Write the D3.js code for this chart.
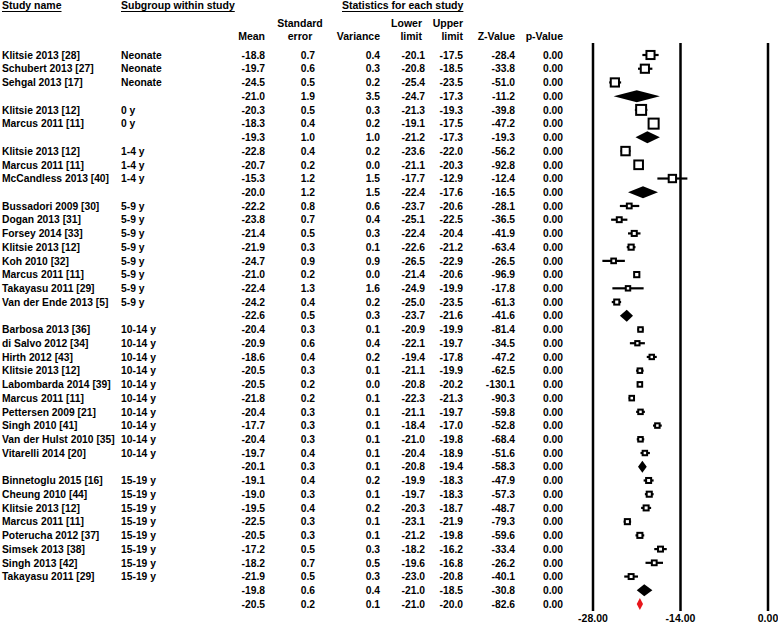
<!DOCTYPE html>
<html>
<head>
<meta charset="utf-8">
<script src="https://cdn.jsdelivr.net/npm/d3@7"></script>
<style>
    body { margin: 0; background: #fff; }
    text { font-family: 'Liberation Sans', Arial, sans-serif; fill: #000; }
</style>
</head>
<body>
<svg id="forest"></svg>
<script>
const svgWidth = 778
const svgHeight = 623

// one entry per row, '' for pooled rows
const studyNames = [
    'Klitsie 2013 [28]', 'Schubert 2013 [27]', 'Sehgal 2013 [17]', '',
    'Klitsie 2013 [12]', 'Marcus 2011 [11]', '',
    'Klitsie 2013 [12]', 'Marcus 2011 [11]', 'McCandless 2013 [40]', '',
    'Bussadori 2009 [30]', 'Dogan 2013 [31]', 'Forsey 2014 [33]', 'Klitsie 2013 [12]', 'Koh 2010 [32]',
    'Marcus 2011 [11]', 'Takayasu 2011 [29]', 'Van der Ende 2013 [5]', '',
    'Barbosa 2013 [36]', 'di Salvo 2012 [34]', 'Hirth 2012 [43]', 'Klitsie 2013 [12]', 'Labombarda 2014 [39]',
    'Marcus 2011 [11]', 'Pettersen 2009 [21]', 'Singh 2010 [41]', 'Van der Hulst 2010 [35]', 'Vitarelli 2014 [20]', '',
    'Binnetoglu 2015 [16]', 'Cheung 2010 [44]', 'Klitsie 2013 [12]', 'Marcus 2011 [11]', 'Poterucha 2012 [37]',
    'Simsek 2013 [38]', 'Singh 2013 [42]', 'Takayasu 2011 [29]', '',
    ''
]
const subgroups = [
    'Neonate', 'Neonate', 'Neonate', '',
    '0 y', '0 y', '',
    '1-4 y', '1-4 y', '1-4 y', '',
    '5-9 y', '5-9 y', '5-9 y', '5-9 y', '5-9 y', '5-9 y', '5-9 y', '5-9 y', '',
    '10-14 y', '10-14 y', '10-14 y', '10-14 y', '10-14 y', '10-14 y', '10-14 y', '10-14 y', '10-14 y', '10-14 y', '',
    '15-19 y', '15-19 y', '15-19 y', '15-19 y', '15-19 y', '15-19 y', '15-19 y', '15-19 y', '',
    ''
]
const rowTypes = [
    'study', 'study', 'study', 'pooled',
    'study', 'study', 'pooled',
    'study', 'study', 'study', 'pooled',
    'study', 'study', 'study', 'study', 'study', 'study', 'study', 'study', 'pooled',
    'study', 'study', 'study', 'study', 'study', 'study', 'study', 'study', 'study', 'study', 'pooled',
    'study', 'study', 'study', 'study', 'study', 'study', 'study', 'study', 'pooled',
    'overall'
]
const means = [
    -18.8, -19.7, -24.5, -21.0,
    -20.3, -18.3, -19.3,
    -22.8, -20.7, -15.3, -20.0,
    -22.2, -23.8, -21.4, -21.9, -24.7, -21.0, -22.4, -24.2, -22.6,
    -20.4, -20.9, -18.6, -20.5, -20.5, -21.8, -20.4, -17.7, -20.4, -19.7, -20.1,
    -19.1, -19.0, -19.5, -22.5, -20.5, -17.2, -18.2, -21.9, -19.8,
    -20.5
]
const stdErrors = [
    0.7, 0.6, 0.5, 1.9,
    0.5, 0.4, 1.0,
    0.4, 0.2, 1.2, 1.2,
    0.8, 0.7, 0.5, 0.3, 0.9, 0.2, 1.3, 0.4, 0.5,
    0.3, 0.6, 0.4, 0.3, 0.2, 0.2, 0.3, 0.3, 0.3, 0.4, 0.3,
    0.4, 0.3, 0.4, 0.3, 0.3, 0.5, 0.7, 0.5, 0.6,
    0.2
]
const variances = [
    0.4, 0.3, 0.2, 3.5,
    0.3, 0.2, 1.0,
    0.2, 0.0, 1.5, 1.5,
    0.6, 0.4, 0.3, 0.1, 0.9, 0.0, 1.6, 0.2, 0.3,
    0.1, 0.4, 0.2, 0.1, 0.0, 0.1, 0.1, 0.1, 0.1, 0.1, 0.1,
    0.2, 0.1, 0.2, 0.1, 0.1, 0.3, 0.5, 0.3, 0.4,
    0.1
]
const lowerLimits = [
    -20.1, -20.8, -25.4, -24.7,
    -21.3, -19.1, -21.2,
    -23.6, -21.1, -17.7, -22.4,
    -23.7, -25.1, -22.4, -22.6, -26.5, -21.4, -24.9, -25.0, -23.7,
    -20.9, -22.1, -19.4, -21.1, -20.8, -22.3, -21.1, -18.4, -21.0, -20.4, -20.8,
    -19.9, -19.7, -20.3, -23.1, -21.2, -18.2, -19.6, -23.0, -21.0,
    -21.0
]
const upperLimits = [
    -17.5, -18.5, -23.5, -17.3,
    -19.3, -17.5, -17.3,
    -22.0, -20.3, -12.9, -17.6,
    -20.6, -22.5, -20.4, -21.2, -22.9, -20.6, -19.9, -23.5, -21.6,
    -19.9, -19.7, -17.8, -19.9, -20.2, -21.3, -19.7, -17.0, -19.8, -18.9, -19.4,
    -18.3, -18.3, -18.7, -21.9, -19.8, -16.2, -16.8, -20.8, -18.5,
    -20.0
]
const zValues = [
    -28.4, -33.8, -51.0, -11.2,
    -39.8, -47.2, -19.3,
    -56.2, -92.8, -12.4, -16.5,
    -28.1, -36.5, -41.9, -63.4, -26.5, -96.9, -17.8, -61.3, -41.6,
    -81.4, -34.5, -47.2, -62.5, -130.1, -90.3, -59.8, -52.8, -68.4, -51.6, -58.3,
    -47.9, -57.3, -48.7, -79.3, -59.6, -33.4, -26.2, -40.1, -30.8,
    -82.6
]
const pValues = means.map(() => 0.00)
// relative weight (%) within subgroup, sets the box size
const weights = [
    32.8, 33.4, 33.8, null,
    49.5, 50.5, null,
    35.5, 37.5, 27.0, null,
    11.5, 12.0, 12.8, 13.3, 10.8, 13.6, 9.8, 13.0, null,
    10.3, 9.2, 9.8, 10.2, 10.5, 10.4, 10.1, 10.1, 10.2, 9.9, null,
    12.6, 12.9, 12.6, 12.9, 12.9, 12.3, 11.5, 12.3, null,
    null
]
const xTicks = [-28, -14, 0]

const rows = means.map((m, i) => ({
    name: studyNames[i],
    subgroup: subgroups[i],
    type: rowTypes[i],
    mean: m,
    se: stdErrors[i],
    variance: variances[i],
    lower: lowerLimits[i],
    upper: upperLimits[i],
    z: zValues[i],
    p: pValues[i],
    weight: weights[i]
}))

const columns = [
    { key: 'mean', x: 265, head: ['', 'Mean'], digits: 1 },
    { key: 'se', x: 315, head: ['Standard', 'error'], digits: 1, headX: 300, headAnchor: 'middle' },
    { key: 'variance', x: 380, head: ['', 'Variance'], digits: 1 },
    { key: 'lower', x: 425, head: ['Lower', 'limit'], digits: 1, headX: 422 },
    { key: 'upper', x: 463, head: ['Upper', 'limit'], digits: 1 },
    { key: 'z', x: 515, head: ['', 'Z-Value'], digits: 1 },
    { key: 'p', x: 563, head: ['', 'p-Value'], digits: 2 }
]

const svg = d3.select('#forest')
    .attr('width', svgWidth)
    .attr('height', svgHeight)

const y = d3
    .scalePoint()
    .domain(d3.range(rows.length))
    .range([55, 604])

const x = d3
    .scaleLinear()
    .domain([-28, 0])
    .range([593, 768])

const boxSize = d3
    .scaleSqrt()
    .domain([0, 50])
    .range([0, 10])

// headers
const headFont = 10.5
const underlined = (txt, xPos) => {
    const t = svg.append('text')
        .attr('x', xPos)
        .attr('y', 9)
        .attr('font-size', headFont)
        .attr('font-weight', 'bold')
        .text(txt)
    const len = t.node().getComputedTextLength()
    svg.append('line')
        .attr('x1', xPos).attr('x2', xPos + len)
        .attr('y1', 11.5).attr('y2', 11.5)
        .attr('stroke', '#000')
        .attr('stroke-width', 1.2)
}
underlined('Study name', 2)
underlined('Subgroup within study', 121)
underlined('Statistics for each study', 342)

columns.forEach(c => {
    c.head.forEach((h, j) => {
        svg.append('text')
            .attr('x', c.headX || c.x)
            .attr('y', 27 + j * 13)
            .attr('text-anchor', c.headAnchor || 'end')
            .attr('font-size', headFont)
            .attr('font-weight', 'bold')
            .text(h)
    })
})

// table rows
const dataFont = 10.3
const rowG = svg.append('g')
    .attr('font-weight', 'bold')
    .selectAll('g')
    .data(rows)
    .join('g')
    .attr('transform', (d, i) => `translate(0, ${y(i)})`)

rowG.append('text')
    .attr('x', 2)
    .attr('dy', '0.36em')
    .attr('font-size', dataFont)
    .text(d => d.name)

rowG.append('text')
    .attr('x', 121)
    .attr('dy', '0.36em')
    .attr('font-size', dataFont)
    .text(d => d.subgroup)

columns.forEach(c => {
    rowG.append('text')
        .attr('x', c.x)
        .attr('dy', '0.36em')
        .attr('text-anchor', 'end')
        .attr('font-size', dataFont)
        .text(d => d[c.key].toFixed(c.digits))
})

// reference lines and tick labels
svg.append('g')
    .selectAll('line')
    .data(xTicks)
    .join('line')
    .attr('x1', d => x(d))
    .attr('x2', d => x(d))
    .attr('y1', 43)
    .attr('y2', 611)
    .attr('stroke', '#000')
    .attr('stroke-width', 2.5)

svg.append('g')
    .selectAll('text')
    .data(xTicks)
    .join('text')
    .attr('x', d => x(d))
    .attr('y', 622)
    .attr('text-anchor', 'middle')
    .attr('font-size', headFont)
    .attr('font-weight', 'bold')
    .text(d => d.toFixed(2))

// study CIs and boxes
const plotG = svg.append('g')
const studies = rows.map((d, i) => ({ ...d, i })).filter(d => d.type === 'study')

plotG.selectAll('line.ci')
    .data(studies)
    .join('line')
    .attr('class', 'ci')
    .attr('x1', d => x(d.lower))
    .attr('x2', d => x(d.upper))
    .attr('y1', d => y(d.i))
    .attr('y2', d => y(d.i))
    .attr('stroke', '#000')
    .attr('stroke-width', 2.2)

plotG.selectAll('rect')
    .data(studies)
    .join('rect')
    .attr('x', d => x(d.mean) - boxSize(d.weight) / 2)
    .attr('y', d => y(d.i) - boxSize(d.weight) / 2)
    .attr('width', d => boxSize(d.weight))
    .attr('height', d => boxSize(d.weight))
    .attr('fill', '#fff')
    .attr('stroke', '#000')
    .attr('stroke-width', 2)

// pooled diamonds
const pooled = rows.map((d, i) => ({ ...d, i })).filter(d => d.type !== 'study')
const halfH = 6
plotG.selectAll('path')
    .data(pooled)
    .join('path')
    .attr('d', d => {
        const cy = y(d.i)
        return `M${x(d.lower)},${cy}L${x(d.mean)},${cy - halfH}L${x(d.upper)},${cy}L${x(d.mean)},${cy + halfH}Z`
    })
    .attr('fill', d => d.type === 'overall' ? '#e8161b' : '#000')
</script>
</body>
</html>
